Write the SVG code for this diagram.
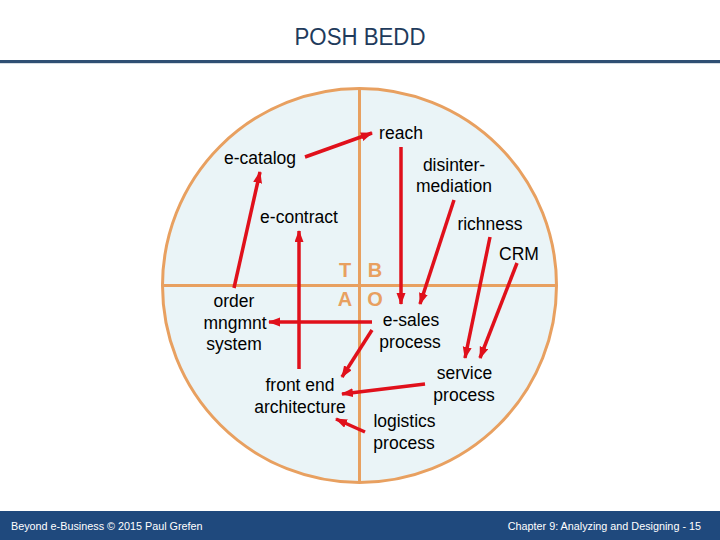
<svg xmlns="http://www.w3.org/2000/svg" width="720" height="540" viewBox="0 0 720 540">
<defs>
<marker id="ah" markerUnits="userSpaceOnUse" markerWidth="12" markerHeight="10" refX="11" refY="4.5" orient="auto">
<path d="M0,0 L12,4.5 L0,9 Z" fill="#E0101B"/>
</marker>
<style>
.lbl{font-family:"Liberation Sans",Arial,sans-serif;font-size:17.5px;fill:#000;text-anchor:middle}
.q{font-family:"Liberation Sans",Arial,sans-serif;font-size:20px;font-weight:bold;fill:#E8A060;text-anchor:middle}
.ar{stroke:#E0101B;stroke-width:3.5;fill:none;marker-end:url(#ah)}
.ft{font-family:"Liberation Sans",Arial,sans-serif;font-size:10.8px;fill:#fff}
</style>
</defs>
<rect width="720" height="540" fill="#fff"/>
<text x="360" y="45" font-family="'Liberation Sans',Arial,sans-serif" font-size="23.5" fill="#1F3B5C" text-anchor="middle" textLength="131" lengthAdjust="spacingAndGlyphs">POSH BEDD</text>
<rect x="0" y="60" width="720" height="3.2" fill="#2F4F73"/>
<g id="circle">
<circle cx="359.5" cy="285.5" r="197" fill="#EAF4F7" stroke="#E8A060" stroke-width="3"/>
<line x1="359.5" y1="88.5" x2="359.5" y2="482.5" stroke="#E8A060" stroke-width="3"/>
<line x1="162.5" y1="285.5" x2="556.5" y2="285.5" stroke="#E8A060" stroke-width="3"/>
</g>
<g id="quadrants">
<text class="q" x="345" y="277">T</text>
<text class="q" x="375" y="277">B</text>
<text class="q" x="345" y="306">A</text>
<text class="q" x="375" y="306">O</text>
</g>
<g id="reach"><text class="lbl" x="401" y="139">reach</text></g>
<g id="e-catalog"><text class="lbl" x="260" y="164">e-catalog</text></g>
<g id="disintermediation"><text class="lbl" x="454" y="171">disinter-</text><text class="lbl" x="454" y="192">mediation</text></g>
<g id="e-contract"><text class="lbl" x="299" y="223">e-contract</text></g>
<g id="richness"><text class="lbl" x="490" y="230">richness</text></g>
<g id="crm"><text class="lbl" x="519" y="260">CRM</text></g>
<g id="order"><text class="lbl" x="234" y="307">order</text><text class="lbl" x="235" y="328.5">mngmnt</text><text class="lbl" x="234" y="350">system</text></g>
<g id="front-end"><text class="lbl" x="300" y="391">front end</text><text class="lbl" x="300" y="413">architecture</text></g>
<g id="e-sales"><text class="lbl" x="411" y="326">e-sales</text><text class="lbl" x="410" y="347.5">process</text></g>
<g id="service"><text class="lbl" x="464.5" y="379">service</text><text class="lbl" x="464" y="400.5">process</text></g>
<g id="logistics"><text class="lbl" x="404.5" y="427">logistics</text><text class="lbl" x="404" y="448.5">process</text></g>
<g id="connectors">
<line class="ar" x1="305" y1="157" x2="372" y2="133"/>
<line class="ar" x1="234" y1="288" x2="260" y2="172"/>
<line class="ar" x1="299" y1="369" x2="299" y2="231"/>
<line class="ar" x1="401" y1="147" x2="401" y2="304"/>
<line class="ar" x1="454" y1="200" x2="420" y2="304"/>
<line class="ar" x1="490" y1="237" x2="465" y2="358"/>
<line class="ar" x1="517" y1="263" x2="480" y2="358"/>
<line class="ar" x1="372" y1="322" x2="269" y2="322"/>
<line class="ar" x1="372" y1="330" x2="342" y2="377"/>
<line class="ar" x1="425" y1="384" x2="342" y2="394"/>
<line class="ar" x1="365" y1="432" x2="336" y2="419"/>
</g>
<rect x="0" y="511" width="720" height="29" fill="#1F497D"/>
<text class="ft" x="11" y="530">Beyond e-Business © 2015 Paul Grefen</text>
<text class="ft" x="701" y="530" text-anchor="end">Chapter 9: Analyzing and Designing - 15</text>
</svg>
